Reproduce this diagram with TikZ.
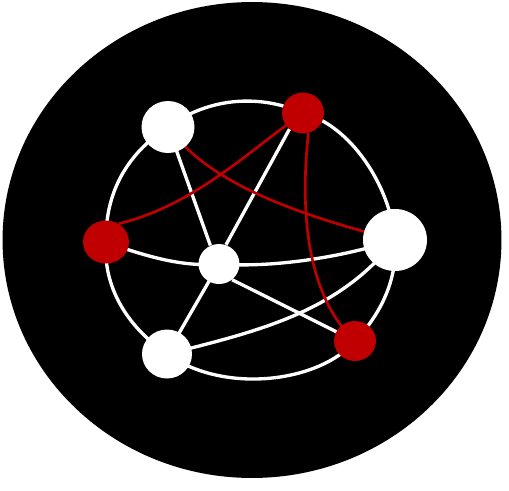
\documentclass[tikz,border=0pt]{standalone}
\usepackage{tikz}
\usetikzlibrary{shapes.geometric}
\definecolor{netred}{RGB}{192,0,0}
\pgfdeclarelayer{front}
\pgfsetlayers{main,front}
\tikzset{
  whitept/.style={ellipse,fill=white,inner sep=0pt},
  redpt/.style={ellipse,fill=netred,inner sep=0pt},
  whiteln/.style={draw=white,line width=1.9pt},
  redln/.style={draw=netred,line width=1.5pt}
}
\begin{document}
\begin{tikzpicture}[x=0.02cm,y=-0.02cm]
\useasboundingbox (0,0) rectangle (509,490);
\node[ellipse,fill=black,minimum width=9.98cm,minimum height=9.52cm,inner sep=0pt] (disc) at (252,240) {};

\begin{pgfonlayer}{front}
\node[whitept,minimum width=1.06cm,minimum height=1.04cm] (a) at (168,127) {};
\node[redpt,minimum width=0.84cm,minimum height=0.82cm] (b) at (303,113) {};
\node[redpt,minimum width=0.92cm,minimum height=0.86cm] (c) at (106,242) {};
\node[whitept,minimum width=0.82cm,minimum height=0.80cm] (d) at (219,264) {};
\node[whitept,minimum width=1.28cm,minimum height=1.24cm] (e) at (395,240) {};
\node[whitept,minimum width=1.00cm,minimum height=0.98cm] (f) at (167,354) {};
\node[redpt,minimum width=0.84cm,minimum height=0.80cm] (g) at (355,341) {};
\end{pgfonlayer}

% outer ring
\draw[whiteln] (a.center) .. controls (205,100) and (255,92) .. (b.center);
\draw[whiteln] (b.center) .. controls (350,125) and (390,185) .. (e.center);
\draw[whiteln] (e.center) .. controls (398,280) and (380,315) .. (g.center);
\draw[whiteln] (g.center) .. controls (320,382) and (225,395) .. (f.center);
\draw[whiteln] (f.center) .. controls (125,325) and (103,285) .. (c.center);
\draw[whiteln] (c.center) .. controls (105,195) and (125,155) .. (a.center);
% spokes
\draw[whiteln] (a.center) -- (d.115);
\draw[whiteln] (b.-130) -- (d.70);
\draw[whiteln] (c.center) .. controls (150,258) and (185,267) .. (d.center);
\draw[whiteln] (d.center) .. controls (270,268) and (340,258) .. (e.center);
\draw[whiteln] (d.center) -- (f.center);
\draw[whiteln] (d.-50) -- (g.center);
\draw[whiteln] (f.center) .. controls (265,330) and (340,310) .. (e.center);
% red links
\draw[redln] (a.center) .. controls (210,185) and (300,215) .. (e.center);
\draw[redln] (b.center) .. controls (250,150) and (195,205) .. (c.55);
\draw[redln] (b.-75) .. controls (302,190) and (300,290) .. (g.center);
\end{tikzpicture}
\end{document}
